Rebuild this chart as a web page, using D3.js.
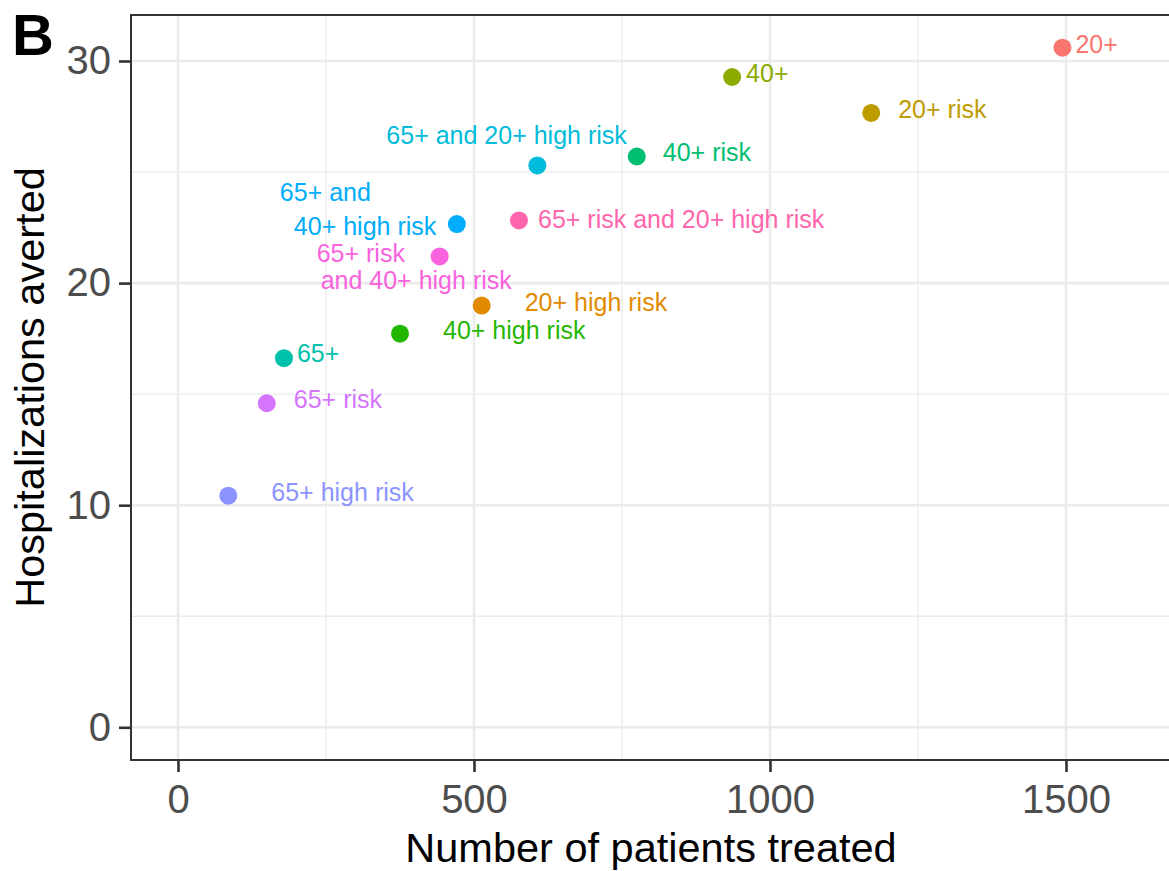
<!DOCTYPE html>
<html>
<head>
<meta charset="utf-8">
<script src="https://cdn.jsdelivr.net/npm/d3@7"></script>
<style>
    body { margin: 0; background: #ffffff; }
    svg { display: block; font-family: "Liberation Sans", Arial, Helvetica, sans-serif; }
</style>
</head>
<body>
<div class="chart"></div>
<script>
// strategy names and their results
const strategies = ['20+', '40+', '20+ risk', '40+ risk', '65+ and 20+ high risk',
    '65+ risk and 20+ high risk', '65+ and 40+ high risk', '65+ risk and 40+ high risk',
    '20+ high risk', '40+ high risk', '65+', '65+ risk', '65+ high risk']
const patientsTreated = [1494, 936, 1171, 775, 607, 576, 471, 442, 513, 375, 179, 150, 85]
const hospAverted = [30.6, 29.28, 27.66, 25.7, 25.3, 22.82, 22.66, 21.2, 18.99, 17.72, 16.62, 14.59, 10.43]
const strategyColors = ['#F8766D', '#8CAB00', '#BE9C00', '#00BE70', '#00BBDA',
    '#FF65AC', '#00ACFC', '#F962DD', '#E18A00', '#24B700', '#00C1AB', '#D575FE', '#8B93FF']

const xTicks = [0, 500, 1000, 1500]
const xMinor = [250, 750, 1250]
const yTicks = [0, 10, 20, 30]
const yMinor = [5, 15, 25]

// where ggrepel put each label, px from the point: [dx, dy] per line
const labelLines = [
    [['20+', 13, 5]],
    [['40+', 14, 5]],
    [['20+ risk', 27, 5]],
    [['40+ risk', 26, 4]],
    [['65+ and 20+ high risk', -151, -21]],
    [['65+ risk and 20+ high risk', 19, 8]],
    [['65+ and', -177, -23], ['40+ high risk', -163, 11]],
    [['65+ risk', -123, 6], ['and 40+ high risk', -119, 33]],
    [['20+ high risk', 43, 5]],
    [['40+ high risk', 43, 5]],
    [['65+', 13, 4]],
    [['65+ risk', 27, 5]],
    [['65+ high risk', 43, 5]]
]

const width = 1169
const height = 871
const panel = { left: 131, right: 1171, top: 15, bottom: 760 }

const x = d3.scaleLinear().domain([0, 1500]).range([178, 1066])
const y = d3.scaleLinear().domain([0, 30]).range([727.3, 61])

const svg = d3.select('.chart').append('svg')
    .attr('width', width)
    .attr('height', height)

const grid = svg.append('g')
grid.selectAll('.xminor').data(xMinor).enter().append('line')
    .attr('x1', d => x(d)).attr('x2', d => x(d))
    .attr('y1', panel.top).attr('y2', panel.bottom)
    .attr('stroke', '#EBEBEB').attr('stroke-width', 1.3)
grid.selectAll('.yminor').data(yMinor).enter().append('line')
    .attr('y1', d => y(d)).attr('y2', d => y(d))
    .attr('x1', panel.left).attr('x2', panel.right)
    .attr('stroke', '#EBEBEB').attr('stroke-width', 1.3)
grid.selectAll('.xmajor').data(xTicks).enter().append('line')
    .attr('x1', d => x(d)).attr('x2', d => x(d))
    .attr('y1', panel.top).attr('y2', panel.bottom)
    .attr('stroke', '#EBEBEB').attr('stroke-width', 2.6)
grid.selectAll('.ymajor').data(yTicks).enter().append('line')
    .attr('y1', d => y(d)).attr('y2', d => y(d))
    .attr('x1', panel.left).attr('x2', panel.right)
    .attr('stroke', '#EBEBEB').attr('stroke-width', 2.6)

// axes
const xAxis = svg.append('g')
    .attr('transform', `translate(0,${panel.bottom})`)
    .call(d3.axisBottom(x).tickValues(xTicks).tickSize(12).tickPadding(13).tickFormat(d3.format('d')))
const yAxis = svg.append('g')
    .attr('transform', `translate(${panel.left},0)`)
    .call(d3.axisLeft(y).tickValues(yTicks).tickSize(12).tickPadding(8).tickFormat(d3.format('d')))

;[xAxis, yAxis].forEach(a => {
    a.select('.domain').remove()
    a.selectAll('.tick line').attr('stroke', '#333333').attr('stroke-width', 2.6)
    a.selectAll('.tick text')
        .attr('fill', '#4D4D4D')
        .style('font-size', '40px')
        .style('font-family', '"Liberation Sans", Arial, sans-serif')
})

svg.append('rect')
    .attr('x', panel.left).attr('y', panel.top)
    .attr('width', panel.right - panel.left).attr('height', panel.bottom - panel.top)
    .attr('fill', 'none').attr('stroke', '#333333').attr('stroke-width', 2)

// points
const idx = d3.range(strategies.length)
svg.append('g').selectAll('circle')
    .data(idx).enter().append('circle')
    .attr('cx', i => x(patientsTreated[i]))
    .attr('cy', i => y(hospAverted[i]))
    .attr('r', 9)
    .attr('fill', i => strategyColors[i])

// labels
const labels = svg.append('g').style('font-size', '25px')
idx.forEach(i => {
    labelLines[i].forEach(([txt, dx, dy]) => {
        labels.append('text')
            .attr('x', x(patientsTreated[i]) + dx)
            .attr('y', y(hospAverted[i]) + dy)
            .attr('fill', strategyColors[i])
            .text(txt)
    })
})

// titles
svg.append('text')
    .attr('x', (panel.left + panel.right) / 2)
    .attr('y', 862)
    .attr('text-anchor', 'middle')
    .style('font-size', '41.5px')
    .text('Number of patients treated')

svg.append('text')
    .attr('transform', `translate(44,${(panel.top + panel.bottom) / 2}) rotate(-90)`)
    .attr('text-anchor', 'middle')
    .style('font-size', '41.5px')
    .text('Hospitalizations averted')

svg.append('text')
    .attr('x', 12)
    .attr('y', 55)
    .style('font-size', '58px')
    .style('font-weight', 'bold')
    .text('B')
</script>
</body>
</html>
